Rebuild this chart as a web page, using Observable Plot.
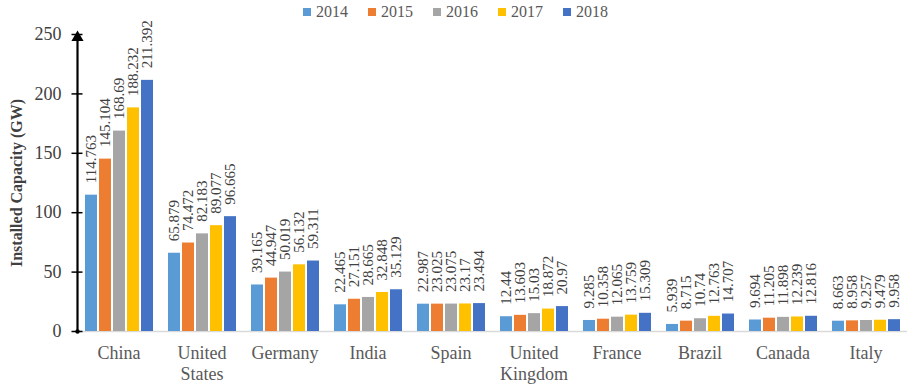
<!DOCTYPE html>
<html>
<head>
<meta charset="utf-8">
<script src="https://cdn.jsdelivr.net/npm/d3@7"></script>
<script src="https://cdn.jsdelivr.net/npm/@observablehq/plot@0.6"></script>
<style>
  html, body { margin: 0; padding: 0; background: #fff; }
  #wrap { position: relative; width: 913px; height: 386px; font-family: 'Liberation Serif', 'Times New Roman', serif; }
  #legend { position: absolute; top: 3px; left: 0; width: 913px; display: flex; justify-content: center; font-size: 16px; color: #595959; box-sizing: border-box; padding-right: 2px; }
  #legend .item { display: flex; align-items: center; margin: 0 10px; }
  #legend .sw { width: 8px; height: 8px; margin-right: 5px; }
  svg text { font-family: 'Liberation Serif', 'Times New Roman', serif; }
</style>
</head>
<body>
<div id="wrap"><div id="legend"></div><div id="chart"></div></div>
<script>
const countries = ["China", "United States", "Germany", "India", "Spain", "United Kingdom", "France", "Brazil", "Canada", "Italy"];
const years = ["2014", "2015", "2016", "2017", "2018"];
const colors = ["#5B9BD5", "#ED7D31", "#A5A5A5", "#FFC000", "#4472C4"];
const v2014 = [114.763, 65.879, 39.165, 22.465, 22.987, 12.44, 9.285, 5.939, 9.694, 8.663];
const v2015 = [145.104, 74.472, 44.947, 27.151, 23.025, 13.603, 10.358, 8.715, 11.205, 8.958];
const v2016 = [168.69, 82.183, 50.019, 28.665, 23.075, 15.03, 12.065, 10.74, 11.898, 9.257];
const v2017 = [188.232, 89.077, 56.132, 32.848, 23.17, 18.872, 13.759, 12.763, 12.239, 9.479];
const v2018 = [211.392, 96.665, 59.311, 35.129, 23.494, 20.97, 15.309, 14.707, 12.816, 9.958];
const yTicks = [0, 50, 100, 150, 200, 250];
const yTitle = "Installed Capacity (GW)";

const series = [v2014, v2015, v2016, v2017, v2018];
const data = [];
countries.forEach((c, i) => years.forEach((y, j) => data.push({country: c, year: y, value: series[j][i]})));

const legend = document.getElementById("legend");
years.forEach((y, j) => {
  const it = document.createElement("div");
  it.className = "item";
  it.innerHTML = `<span class="sw" style="background:${colors[j]}"></span><span>${y}</span>`;
  legend.appendChild(it);
});

const chart = Plot.plot({
  width: 913,
  height: 386,
  marginTop: 34,
  marginBottom: 55,
  marginLeft: 75,
  marginRight: 5,
  style: {fontFamily: "'Liberation Serif', 'Times New Roman', serif", background: "transparent", overflow: "visible"},
  fx: {domain: countries, padding: 0, label: null},
  x: {domain: years, paddingInner: 0.16, paddingOuter: 0.5, axis: null},
  y: {domain: [0, 250], label: null},
  color: {domain: years, range: colors},
  marks: [
    Plot.ruleY([0], {stroke: "#d9d9d9", strokeWidth: 1.5}),
    Plot.barY(data, {fx: "country", x: "year", y: "value", fill: "year"}),
    Plot.text(data, {fx: "country", x: "year", y: "value", text: d => String(d.value), rotate: -90, textAnchor: "start", dy: -12, fontSize: 15, fill: "#404040"}),
    Plot.axisY({ticks: yTicks, tickSize: 11, dx: 5.5, tickFormat: () => "", stroke: "#000", strokeWidth: 1.5, label: null}),
    Plot.axisY({ticks: yTicks, tickSize: 0, tickPadding: 16, fontSize: 18, color: "#404040", label: null}),
    Plot.text([yTitle], {text: d => d, frameAnchor: "left", facetAnchor: "left", textAnchor: "middle", rotate: -90, dx: -61, fontSize: 16, fontWeight: "bold", fill: "#404040"}),
    Plot.frame({anchor: "left", facetAnchor: "left", stroke: "#000", strokeWidth: 2.2}),
    Plot.dot([250], {y: d => d, frameAnchor: "left", facetAnchor: "left", symbol: "triangle", r: 4.5, fill: "#000", dy: 3}),
    Plot.dot([0], {y: d => d, frameAnchor: "left", facetAnchor: "left", r: 2.2, fill: "#000"}),
    Plot.axisFx({anchor: "bottom", tickSize: 0, tickPadding: 13, fontSize: 18, color: "#595959", lineHeight: 1.15, tickFormat: d => d.replace(" ", "\n"), label: null})
  ]
});
document.getElementById("chart").appendChild(chart);
</script>
</body>
</html>
